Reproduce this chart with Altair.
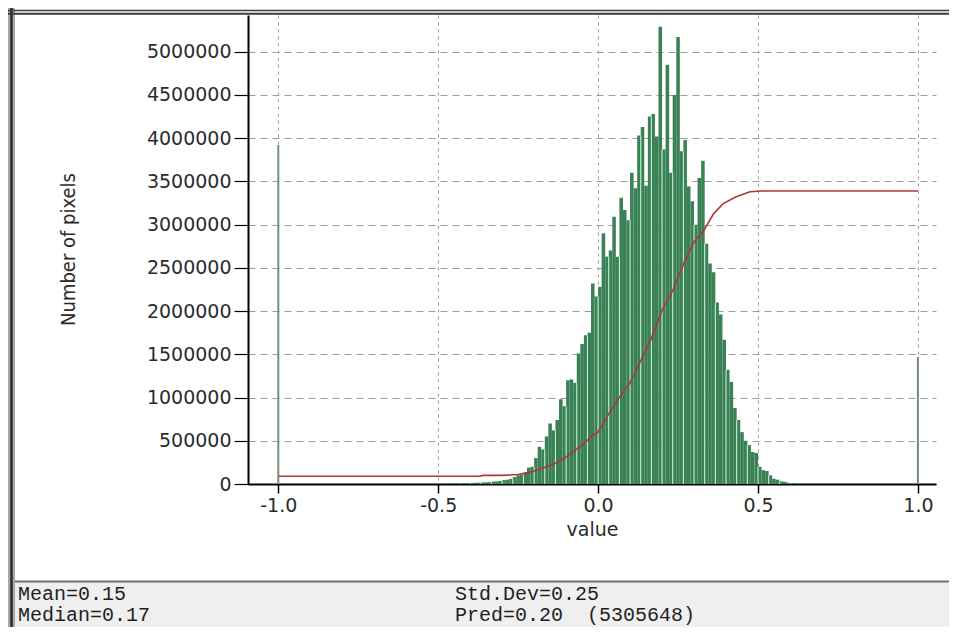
import altair as alt
import pandas as pd

# ---------------- data ----------------
BIN_WIDTH = 1 / 90          # histogram bin width (value units)
FIRST_BIN = -42             # index of the first bin (left edge = FIRST_BIN * BIN_WIDTH)
counts_m = [                # pixel counts per bin, in millions
    0.005, 0.008, 0.008, 0.010, 0.010, 0.012, 0.012, 0.015, 0.015, 0.018,
    0.020, 0.022, 0.028, 0.030, 0.035, 0.045, 0.050, 0.060, 0.080, 0.100,
    0.110, 0.130, 0.190, 0.200, 0.300, 0.430, 0.400, 0.550, 0.700, 0.620,
    0.740, 0.980, 0.900, 1.200, 1.210, 1.170, 1.510, 1.620, 1.720, 1.750,
    2.320, 2.170, 2.280, 2.900, 2.630, 2.700, 3.090, 2.630, 3.310, 3.170,
    3.050, 3.600, 3.420, 4.030, 4.130, 3.450, 4.250, 4.280, 4.020, 5.290,
    3.870, 4.850, 3.600, 4.500, 5.170, 3.850, 3.980, 3.440, 3.270, 3.000,
    3.540, 3.740, 2.780, 2.550, 2.450, 2.100, 1.960, 1.670, 1.320, 1.180,
    0.880, 0.740, 0.600, 0.500, 0.450, 0.370, 0.360, 0.200, 0.160, 0.150,
    0.100, 0.060, 0.050, 0.030, 0.025, 0.015, 0.010, 0.005,
]
spike_values = [-1.0, 1.0]
spike_counts = [3920000, 1470000]

cdf_x = [-1.0, -0.37, -0.36, -0.30, -0.25, -0.21, -0.16, -0.12, -0.09, -0.05,
         -0.02, 0.0, 0.03, 0.06, 0.10, 0.135, 0.165, 0.20, 0.235, 0.27,
         0.30, 0.33, 0.36, 0.39, 0.43, 0.475, 0.51, 1.0]
cdf_m = [0.09, 0.09, 0.10, 0.10, 0.11, 0.14, 0.20, 0.26, 0.34, 0.45,
         0.55, 0.60, 0.79, 0.97, 1.17, 1.44, 1.67, 2.01, 2.25, 2.57,
         2.80, 2.93, 3.12, 3.24, 3.32, 3.38, 3.39, 3.39]

x_ticks = [-1.0, -0.5, 0.0, 0.5, 1.0]
y_ticks = [0, 500000, 1000000, 1500000, 2000000, 2500000,
           3000000, 3500000, 4000000, 4500000, 5000000]
stats_left = ["Mean=0.15", "Median=0.17"]
stats_right = ["Std.Dev=0.25", "Pred=0.20\u00a0 (5305648)"]

# ---------------- tables ----------------
lefts = [(FIRST_BIN + i) * BIN_WIDTH for i in range(len(counts_m))]
hist = pd.DataFrame({
    "x0": lefts,
    "x1": [l + BIN_WIDTH for l in lefts],
    "n": [c * 1e6 for c in counts_m],
})
gap_rows = []
for i in range(1, len(counts_m)):
    if (FIRST_BIN + i) % 3 == 0:
        gap_rows.append({"gx": lefts[i],
                         "gy": min(hist.n[i - 1], hist.n[i])})
gaps = pd.DataFrame(gap_rows)
spikes = pd.DataFrame({"sx": spike_values, "sy": spike_counts})
cdf = pd.DataFrame({"cx": cdf_x, "cy": [v * 1e6 for v in cdf_m]})

W, H = 688, 469
xs = alt.Scale(domain=[-1.0947, 1.0566], nice=False, zero=False)
ys = alt.Scale(domain=[0, 5425000], nice=False, zero=True)

LABEL_FONT = "DejaVu Sans"
x_axis = alt.Axis(
    values=x_ticks,
    labelExpr="datum.value < 0 ? '-' + format(-datum.value, '.1f') : format(datum.value, '.1f')",
    title="value", titleFont=LABEL_FONT, titleFontSize=19, titleFontWeight="normal",
    titleColor="#2b2b2b", titleY=45, titleBaseline="middle",
    labelFont=LABEL_FONT, labelFontSize=19, labelColor="#2b2b2b", labelPadding=3,
    tickSize=9, tickColor="black", tickWidth=1.5,
    domainColor="black", domainWidth=2,
    grid=True, gridDash=[3, 4], gridColor="#9a9a9a", gridWidth=1,
)
y_axis = alt.Axis(
    values=y_ticks, format="d",
    title="Number of pixels",
    titleFont="Liberation Sans Narrow, DejaVu Sans Condensed, Roboto Condensed, Liberation Sans",
    titleFontSize=20, titleFontWeight="normal", titleColor="#2b2b2b",
    titleAngle=270, titleX=-180, titleY=234, titleAlign="center", titleBaseline="middle",
    labelFont=LABEL_FONT, labelFontSize=19, labelColor="#2b2b2b", labelPadding=3,
    tickSize=14, tickColor="black", tickWidth=1.2,
    domainColor="black", domainWidth=2,
    grid=True, gridDash=[7, 5], gridColor="#9a9a9a", gridWidth=1,
)

bars = alt.Chart(hist).mark_bar(color="#3a8256", strokeWidth=0).encode(
    x=alt.X("x0:Q", scale=xs, axis=x_axis),
    x2="x1:Q",
    y=alt.Y("n:Q", scale=ys, axis=y_axis),
    y2=alt.datum(0),
)
gap_lines = alt.Chart(gaps).mark_rule(color="#c3efd0", strokeWidth=1.1).encode(
    x=alt.X("gx:Q", scale=xs),
    y=alt.Y("gy:Q", scale=ys),
    y2=alt.datum(0),
)
spike_lines = alt.Chart(spikes).mark_rule(color="#6f8f7d", strokeWidth=2).encode(
    x=alt.X("sx:Q", scale=xs),
    y=alt.Y("sy:Q", scale=ys),
    y2=alt.datum(0),
)
cdf_line = alt.Chart(cdf).mark_line(color="#b03636", strokeWidth=1.6).encode(
    x=alt.X("cx:Q", scale=xs),
    y=alt.Y("cy:Q", scale=ys),
)

# ---------------- window decorations (outside the plot area) ----------------
RIGHT = 701   # right edge of the canvas, in plot coordinates
BOTTOM = 612  # bottom edge of the canvas, in plot coordinates
one = pd.DataFrame({"k": [0]})
panel = alt.Chart(one).mark_rect(color="#efefef").encode(
    x=alt.value(-238), x2=alt.value(RIGHT), y=alt.value(567), y2=alt.value(BOTTOM))
panel_border = alt.Chart(one).mark_rule(color="#707070", strokeWidth=2).encode(
    x=alt.value(-238), x2=alt.value(RIGHT), y=alt.value(566.5))
frame_band = alt.Chart(one).mark_rect(color="#a8a8a8").encode(
    x=alt.value(-240), x2=alt.value(-233), y=alt.value(-7), y2=alt.value(BOTTOM))
frame_left = alt.Chart(one).mark_rule(color="#2c2c2c", strokeWidth=2.5).encode(
    x=alt.value(-236.5), y=alt.value(-7), y2=alt.value(BOTTOM))
frame_top1 = alt.Chart(one).mark_rule(color="#3a3a3a", strokeWidth=1.5).encode(
    x=alt.value(-240), x2=alt.value(RIGHT), y=alt.value(-4.5))
frame_top2 = alt.Chart(one).mark_rule(color="#3a3a3a", strokeWidth=2).encode(
    x=alt.value(-240), x2=alt.value(RIGHT), y=alt.value(-1.2))

MONO = "Liberation Mono"
def stat_text(label, px, py):
    return alt.Chart(pd.DataFrame({"t": [label]})).mark_text(
        align="left", baseline="middle", font=MONO, fontSize=20, color="#1f1f1f"
    ).encode(x=alt.value(px), y=alt.value(py), text="t:N")

texts = [
    stat_text(stats_left[0], -230, 579),
    stat_text(stats_left[1], -230, 600),
    stat_text(stats_right[0], 207, 579),
    stat_text(stats_right[1], 207, 600),
]

chart = alt.layer(
    panel, panel_border, frame_band, frame_left, frame_top1, frame_top2,
    bars, gap_lines, spike_lines, cdf_line, *texts,
).properties(
    width=W, height=H,
    autosize=alt.AutoSizeParams(type="none"),
    padding={"left": 240, "top": 7, "right": 13, "bottom": 143},
    background="white",
).configure_view(strokeWidth=0)

chart.save("out.html", embed_options={"renderer": "svg", "actions": False})
